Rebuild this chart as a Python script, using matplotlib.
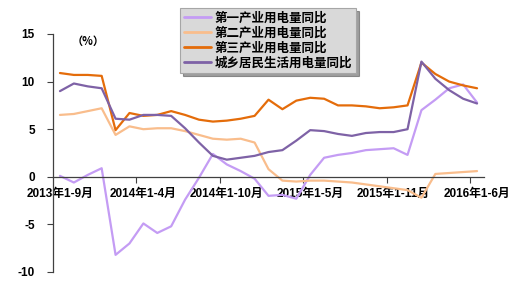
import matplotlib
matplotlib.use("Agg")
import matplotlib.pyplot as plt
from matplotlib.ticker import FixedLocator, NullFormatter

plt.rcParams['font.family'] = ['Liberation Sans', 'Noto Sans CJK SC', 'DejaVu Sans']

categories = ['2013年1-9月', '2013年1-10月', '2013年1-11月', '2013年1-12月',
              '2014年1-2月', '2014年1-3月', '2014年1-4月', '2014年1-5月', '2014年1-6月',
              '2014年1-7月', '2014年1-8月', '2014年1-9月', '2014年1-10月', '2014年1-11月',
              '2014年1-12月',
              '2015年1-2月', '2015年1-3月', '2015年1-4月', '2015年1-5月', '2015年1-6月',
              '2015年1-7月', '2015年1-8月', '2015年1-9月', '2015年1-10月', '2015年1-11月',
              '2015年1-12月',
              '2016年1-2月', '2016年1-3月', '2016年1-4月', '2016年1-5月', '2016年1-6月']

primary = [0.1, -0.6, 0.2, 0.9, -8.2, -7.0, -4.9, -5.9, -5.2, -2.4, -0.1, 2.4, 1.3, 0.6,
           -0.2, -2.0, -1.9, -2.3, 0.2, 2.0, 2.3, 2.5, 2.8, 2.9, 3.0, 2.3, 7.0, 8.1, 9.3,
           9.7, 7.8]
secondary = [6.5, 6.6, 6.9, 7.2, 4.4, 5.3, 5.0, 5.1, 5.1, 4.8, 4.4, 4.0, 3.9, 4.0, 3.6,
             0.8, -0.4, -0.5, -0.4, -0.4, -0.5, -0.6, -0.8, -1.0, -1.2, -1.4, -2.2, 0.3,
             0.4, 0.5, 0.6]
tertiary = [10.9, 10.7, 10.7, 10.6, 4.9, 6.7, 6.4, 6.5, 6.9, 6.5, 6.0, 5.8, 5.9, 6.1, 6.4,
            8.1, 7.1, 8.0, 8.3, 8.2, 7.5, 7.5, 7.4, 7.2, 7.3, 7.5, 12.0, 10.8, 10.0, 9.6,
            9.3]
residential = [9.0, 9.8, 9.5, 9.3, 6.1, 6.0, 6.5, 6.5, 6.4, 5.1, 3.6, 2.2, 1.8, 2.0, 2.2,
               2.6, 2.8, 3.8, 4.9, 4.8, 4.5, 4.3, 4.6, 4.7, 4.7, 5.0, 12.1, 10.3, 9.1, 8.2,
               7.7]

series_names = ['第一产业用电量同比', '第二产业用电量同比', '第三产业用电量同比', '城乡居民生活用电量同比']
yticks = [-10, -5, 0, 5, 10, 15]
label_every = 6

colors = ['#c49cf4', '#f9bd8c', '#e46c0a', '#7e62a6']

fig = plt.figure(figsize=(5.2, 2.83), dpi=100)
ax = fig.add_axes([53 / 520, 1 - 272 / 283, 431 / 520, 238 / 283])

x = list(range(len(categories)))
for vals, name, c in zip([primary, secondary, tertiary, residential], series_names, colors):
    ax.plot(x, vals, color=c, lw=1.6, label=name, solid_capstyle='round')

ax.set_xlim(-0.5, len(categories) - 0.5)
ax.set_ylim(-10, 15)
ax.set_yticks(yticks)
ax.set_yticklabels([str(v) for v in yticks], fontsize=8.5, fontweight='bold')
ax.tick_params(axis='y', length=4, width=0.8, pad=9, color='#404040')

for s in ['top', 'right']:
    ax.spines[s].set_visible(False)
ax.spines['bottom'].set_position(('data', 0))
ax.spines['left'].set_color('#404040')
ax.spines['bottom'].set_color('#404040')
ax.spines['left'].set_linewidth(0.9)
ax.spines['bottom'].set_linewidth(0.9)

# tick marks at category boundaries, labels centered on categories
bounds = [i - 0.5 for i in range(label_every, len(categories), label_every)]
ax.xaxis.set_major_locator(FixedLocator(bounds))
ax.xaxis.set_major_formatter(NullFormatter())
ax.tick_params(axis='x', which='major', length=4, width=0.8, color='#404040')
label_pos = list(range(0, len(categories), label_every))
ax.xaxis.set_minor_locator(FixedLocator(label_pos))
ax.set_xticklabels([categories[i] for i in label_pos], minor=True,
                   fontsize=8.5, fontweight='bold')
ax.tick_params(axis='x', which='minor', length=0, pad=8)

fig.text(72 / 520, 1 - 41 / 283, '（%）', fontsize=8, fontweight='bold',
         va='center', ha='left', family=['Noto Sans CJK SC', 'DejaVu Sans'])

leg = ax.legend(loc='upper left', bbox_to_anchor=(180 / 520, 1 - 8 / 283),
                bbox_transform=fig.transFigure, borderaxespad=0, frameon=True,
                fancybox=False, shadow=True, facecolor='#d9d9d9', edgecolor='#a6a6a6',
                prop={'family': ['Noto Sans CJK SC'], 'size': 9, 'weight': 'bold'},
                handlelength=2.2, handletextpad=0.3, labelspacing=0.15,
                borderpad=0.3)
leg.get_frame().set_linewidth(0.8)
for line in leg.get_lines():
    line.set_linewidth(2.0)

fig.savefig('out.png', dpi=100)
